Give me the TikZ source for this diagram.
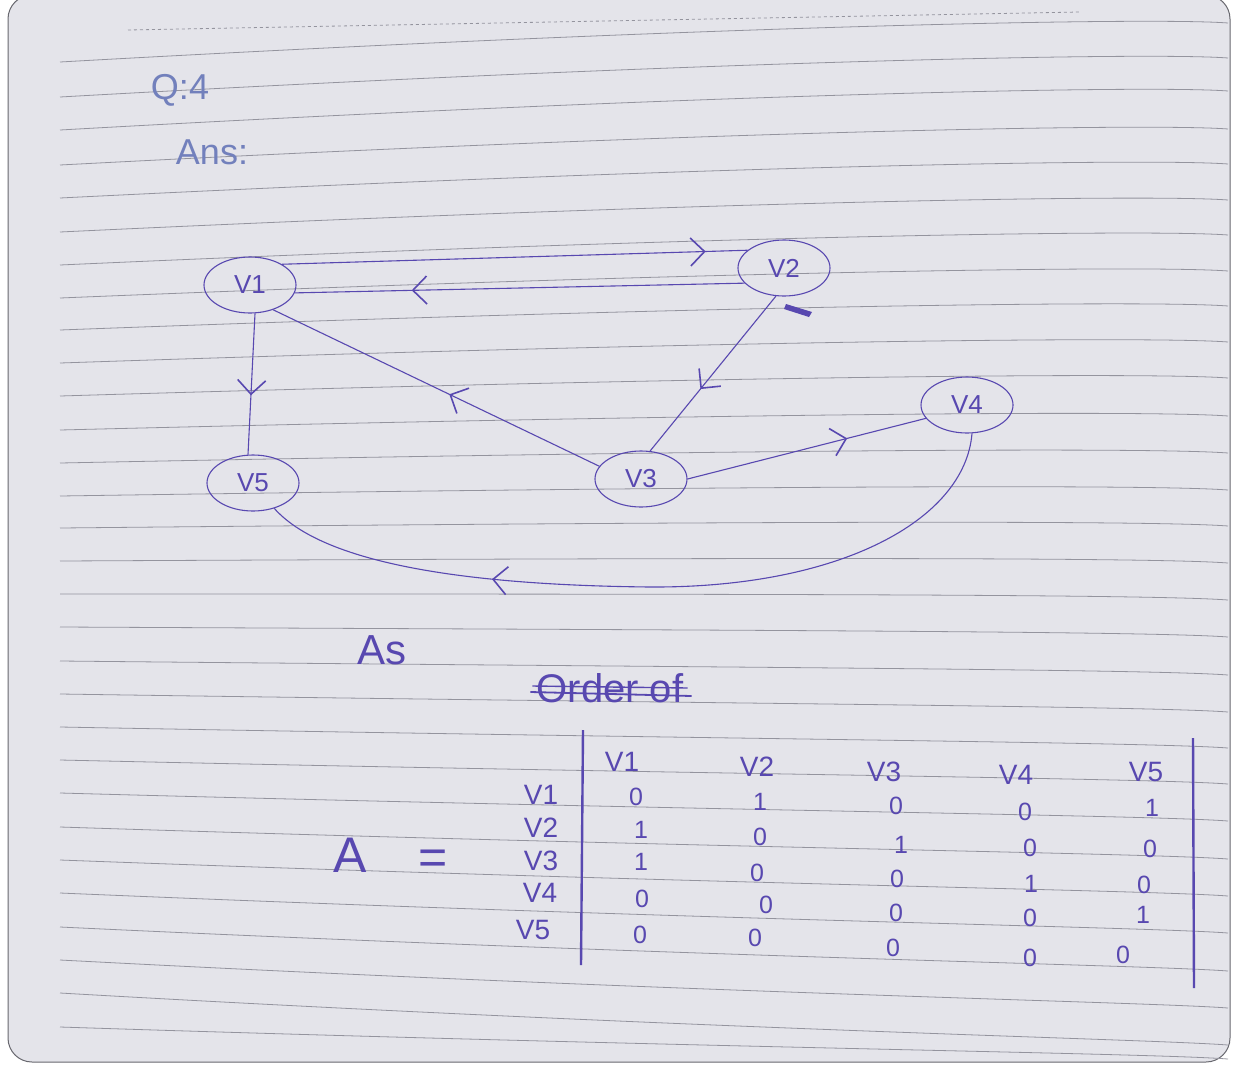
\documentclass[tikz,border=0pt]{standalone}
\usepackage{fontspec}
\setmainfont{Liberation Sans}
\usetikzlibrary{shapes.geometric,arrows.meta,decorations.markings}
\definecolor{ink}{HTML}{5848B0}
\definecolor{lightink}{HTML}{7280BC}
\definecolor{paper}{HTML}{E4E4EA}
\definecolor{rulec}{HTML}{94949E}
\begin{document}
\begin{tikzpicture}[x=1pt,y=-1pt,
  vert/.style={ellipse, draw=ink, line width=1.1pt, minimum width=92pt, minimum height=56pt, inner sep=0pt, text=ink, font=\fontsize{26}{26}\selectfont},
  edge/.style={draw=ink, line width=1.1pt},
  chev/.style={postaction={decorate}, decoration={markings, mark=at position #1 with {\arrow{Straight Barb[length=14pt,width=28pt,line width=1.6pt]}}}},
  lab/.style={text=ink, inner sep=0pt, font=\fontsize{28}{28}\selectfont},
  ent/.style={text=ink, inner sep=0pt, font=\fontsize{25}{25}\selectfont},
  big/.style={text=ink, inner sep=0pt, font=\fontsize{50}{50}\selectfont},
  head/.style={text=lightink, inner sep=0pt, font=\fontsize{36}{36}\selectfont},
  bar/.style={draw=ink, line width=2.4pt}
]
\useasboundingbox (0,0) rectangle (1253,1071);
% paper
\fill[white] (0,0) rectangle (1253,1071);
\fill[paper, draw=rulec!70!black, line width=1pt, rounded corners=24pt] (8,-5) -- (8,1062) -- (1230,1062) -- (1230,-5) -- cycle;
\begin{scope}
\clip (8,0) rectangle (1230,1060);
\draw[rulec, dashed, line width=0.8pt] (128,30) -- (1080,12);
\foreach \yy/\dd in {62/-45,97/-45,130/-45,165/-42,198/-40,232/-38,265/-36,298/-33,330/-30,363/-27,396/-24,430/-20,463/-16,496/-12,528/-8,561/-4,594/0,627/4,661/8,694/12,727/15,760/18,793/22,827/26,860/30,893/34,927/38,960/42,993/46,1027/26}
  \draw[rulec, line width=0.8pt] (60,\yy) .. controls (700,\yy+0.8*\dd) and (1150,\yy+\dd) .. (1228,\yy+\dd+6);
\end{scope}

% headings
\node[head] (q) at (180,90) {Q:4};
\node[head] (ans) at (212,152) {Ans:};

% vertices
\node[vert] (V1) at (250,285) {V1};
\node[vert] (V2) at (784,268) {V2};
\node[vert] (V4) at (967,405) {V4};
\node[vert] (V5) at (253,483) {V5};
\node[vert] (V3) at (641,479) {V3};

% edges
\draw[edge, chev=0.91] (V1.33) -- (V2.154);
\draw[edge, chev=0.74] (V2.201) -- (V1.-10);
\draw[edge, chev=0.58] (V1.-80) -- (V5.100);
\draw[edge, chev=0.46] (V3.163) -- (V1.-47);
\draw[edge, chev=0.60] (V2.-106) -- (V3.72);
\draw[edge, chev=0.67] (V3.0) -- (V4.198);
\draw[edge, chev=0.70] (V4.-80) .. controls (965,520) and (840,588) .. (650,587) .. controls (450,585) and (320,560) .. (V5.-50);
\fill[ink] (786,304) -- (812,312) -- (809,317) -- (784,309) -- cycle;

% text
\node[big, font=\fontsize{42}{42}\selectfont] (as) at (382,650) {As};
\node[lab, font=\fontsize{40}{40}\selectfont] (ord) at (610,688) {Order of};
\draw[ink, line width=1.8pt] ([xshift=-6pt,yshift=-4pt]ord.west) -- ([xshift=8pt,yshift=-8pt]ord.east);
\draw[ink, line width=1.4pt] ([xshift=-4pt,yshift=2pt]ord.west) -- ([xshift=4pt,yshift=0pt]ord.east);

\node[big] (A) at (350,855) {A};
\node[big] (eq) at (433,862) {=};

% matrix bars
\coordinate (bl1) at (583,730);
\coordinate (bl2) at (581,965);
\coordinate (br1) at (1193,738);
\coordinate (br2) at (1194,988);
\draw[bar] (bl1) -- (bl2);
\draw[bar] (br1) -- (br2);

% headers
\node[lab] (c1) at (622,762) {V1};
\node[lab] (c2) at (757,767) {V2};
\node[lab] (c3) at (884,772) {V3};
\node[lab] (c4) at (1016,775) {V4};
\node[lab] (c5) at (1146,772) {V5};
% row labels
\node[lab] (r1) at (541,795) {V1};
\node[lab] (r2) at (541,828) {V2};
\node[lab] (r3) at (541,861) {V3};
\node[lab] (r4) at (540,893) {V4};
\node[lab] (r5) at (533,930) {V5};
% entries
\node[ent] (m11) at (636,797) {0};
\node[ent] (m12) at (760,802) {1};
\node[ent] (m13) at (896,806) {0};
\node[ent] (m14) at (1025,812) {0};
\node[ent] (m15) at (1152,808) {1};
\node[ent] (m21) at (641,830) {1};
\node[ent] (m22) at (760,837) {0};
\node[ent] (m23) at (901,845) {1};
\node[ent] (m24) at (1030,848) {0};
\node[ent] (m25) at (1150,849) {0};
\node[ent] (m31) at (641,862) {1};
\node[ent] (m32) at (757,873) {0};
\node[ent] (m33) at (897,879) {0};
\node[ent] (m34) at (1031,884) {1};
\node[ent] (m35) at (1144,885) {0};
\node[ent] (m41) at (642,899) {0};
\node[ent] (m42) at (766,905) {0};
\node[ent] (m43) at (896,913) {0};
\node[ent] (m44) at (1030,918) {0};
\node[ent] (m45) at (1143,915) {1};
\node[ent] (m51) at (640,935) {0};
\node[ent] (m52) at (755,938) {0};
\node[ent] (m53) at (893,948) {0};
\node[ent] (m54) at (1030,958) {0};
\node[ent] (m55) at (1123,955) {0};
\end{tikzpicture}
\end{document}
